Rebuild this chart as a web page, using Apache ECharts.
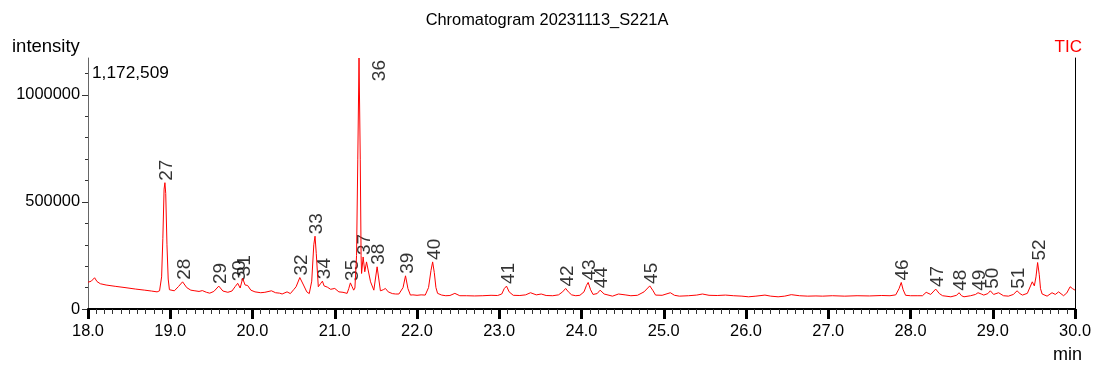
<!DOCTYPE html>
<html>
<head>
<meta charset="utf-8">
<script src="https://cdn.jsdelivr.net/npm/echarts@6/dist/echarts.min.js"></script>
<style>
html,body{margin:0;padding:0;background:#fff;}
#chart{width:1094px;height:365px;}
</style>
</head>
<body>
<div id="chart"></div>
<script>
// ---- data ----
const chartTitle = 'Chromatogram 20231113_S221A';
const traceName = 'TIC';
const yAxisName = 'intensity';
const xAxisName = 'min';

// retention time (min)
const times = [
18.00,18.04,18.08,18.11,18.15,18.22,18.33,18.45,18.58,18.69,18.77,18.84,18.87,18.895,18.91,18.925,18.935,18.945,18.96,18.975,18.99,
19.01,19.05,19.10,19.15,19.20,19.25,19.30,19.35,19.39,19.44,19.48,19.53,19.59,19.64,19.70,19.75,19.79,19.82,19.85,19.88,19.91,19.94,19.98,
20.03,20.10,20.15,20.23,20.28,20.33,20.36,20.42,20.46,20.50,20.53,20.575,20.62,20.66,20.69,20.72,20.745,20.76,20.775,20.80,20.83,20.85,20.87,20.91,20.95,
21.00,21.05,21.10,21.15,21.17,21.19,21.21,21.23,21.245,21.265,21.28,21.295,21.31,21.32,21.326,21.345,21.365,21.386,21.435,21.475,21.515,21.555,21.59,21.616,21.65,21.70,21.74,21.78,21.83,21.86,21.89,21.92,21.95,
22.00,22.05,22.10,22.14,22.17,22.19,22.21,22.23,22.25,22.30,22.35,22.40,22.46,22.52,22.60,22.70,22.80,22.90,22.98,
23.03,23.06,23.088,23.12,23.17,23.25,23.32,23.38,23.45,23.51,23.57,23.65,23.72,23.77,23.807,23.84,23.88,23.93,23.98,
24.03,24.06,24.081,24.11,24.14,24.19,24.226,24.275,24.376,24.45,24.53,24.60,24.68,24.76,24.83,24.87,24.90,24.98,
25.08,25.13,25.19,25.30,25.40,25.47,25.55,25.65,25.75,25.85,25.95,
26.03,26.12,26.23,26.30,26.39,26.47,26.55,26.65,26.75,26.85,26.93,
27.05,27.20,27.35,27.50,27.65,27.75,27.82,27.86,27.887,27.91,27.94,
28.00,28.08,28.145,28.19,28.245,28.306,28.35,28.39,28.49,28.56,28.59,28.62,28.65,28.73,28.79,28.82,28.86,28.89,28.94,28.97,
29.01,29.07,29.13,29.19,29.25,29.295,29.33,29.36,29.42,29.48,29.505,29.525,29.545,29.565,29.58,29.60,29.66,29.72,29.76,29.80,29.86,29.90,29.94,29.97,30.00
];
// intensity (counts)
const intensities = [
125000,130000,146000,128000,118000,112000,106000,100000,93000,88000,84000,80000,85000,150000,330000,560000,590000,540000,300000,140000,90000,
82000,85000,105000,127000,100000,88000,85000,82000,86000,78000,74000,82000,107000,84000,78000,84000,105000,120000,98000,143000,112000,110000,88000,
80000,76000,78000,85000,76000,74000,70000,80000,72000,90000,104000,147000,112000,80000,72000,130000,300000,340000,260000,104000,120000,130000,108000,102000,92000,
96000,80000,78000,73000,95000,122000,105000,88000,98000,250000,700000,1172509,700000,250000,166000,243000,174000,220000,127000,88000,197000,85000,90000,96000,80000,72000,70000,70000,100000,155000,95000,65000,66000,
64000,66000,65000,100000,180000,220000,170000,100000,73000,65000,62000,63000,73000,62000,62000,61000,62000,64000,63000,
70000,95000,107000,80000,64000,63000,66000,76000,66000,70000,63000,62000,66000,80000,96000,80000,66000,62000,64000,
80000,110000,124000,90000,68000,72000,88000,70000,60000,70000,66000,62000,64000,80000,108000,85000,65000,64000,
76000,64000,60000,62000,65000,70000,64000,63000,65000,62000,60000,
57000,60000,65000,60000,57000,60000,67000,62000,60000,61000,60000,
62000,60000,62000,61000,63000,62000,66000,95000,124000,90000,64000,
62000,62000,62000,78000,68000,93000,72000,62000,57000,64000,76000,62000,57000,62000,68000,76000,70000,65000,72000,85000,
68000,76000,62000,60000,68000,85000,72000,65000,73000,127000,108000,150000,217000,160000,95000,70000,60000,76000,68000,80000,62000,75000,104000,95000,88000
];

// peak annotations
const peakNames = ['27','28','29','30','31','32','33','34','35','36','37','38','39','40','41','42','43','44','45','46','47','48','49','50','51','52'];
const peakTimes = [18.935,19.15,19.59,19.82,19.88,20.575,20.76,20.85,21.19,21.295,21.345,21.515,21.86,22.19,23.088,23.807,24.081,24.226,24.83,27.887,28.306,28.59,28.82,28.97,29.295,29.545];

// axes ticks
const xMin = 18, xMax = 30, xStep = 1;
const yMajorTicks = [0, 500000, 1000000];
const yMinorTicks = [100000,200000,300000,400000,600000,700000,800000,900000,1100000];

const FONT = '"Liberation Sans", Arial, sans-serif';

const yMax = Math.max.apply(null, intensities);
const maxLabel = yMax.toLocaleString('en-US');

const lineData = times.map((t, i) => [t, intensities[i]]);
function valueAt(t){
  let best = 0;
  for (let i = 1; i < times.length; i++) if (Math.abs(times[i]-t) < Math.abs(times[best]-t)) best = i;
  return intensities[best];
}
const peakData = peakNames.map((n, i) => {
  const v = valueAt(peakTimes[i]);
  const item = { value: [peakTimes[i], v], name: n };
  if (v >= yMax) {
    item.label = { align: 'right', offset: [-4, 21] };
  }
  return item;
});

const chart = echarts.init(document.getElementById('chart'), null, { renderer: 'canvas' });
chart.setOption({
  animation: false,
  backgroundColor: '#ffffff',
  grid: { left: 88, right: 15, top: 58, bottom: 56, containLabel: false },
  graphic: [
    { type: 'text', left: 'center', y: 20, style: { text: chartTitle, font: '16.4px ' + FONT, fill: '#000', verticalAlign: 'middle' } },
    { type: 'text', x: 12, y: 47, style: { text: yAxisName, font: '18.5px ' + FONT, fill: '#000', verticalAlign: 'middle' } },
    { type: 'text', x: 1082, y: 47, style: { text: traceName, font: '17px ' + FONT, fill: '#ff0000', align: 'right', verticalAlign: 'middle' } },
    { type: 'text', x: 92, y: 73, style: { text: maxLabel, font: '17.3px ' + FONT, fill: '#000', verticalAlign: 'middle' } },
    { type: 'text', x: 1082, y: 355, style: { text: xAxisName, font: '18px ' + FONT, fill: '#000', align: 'right', verticalAlign: 'middle' } }
  ],
  xAxis: [
    {
      type: 'value', min: xMin, max: xMax, interval: xStep, position: 'bottom',
      axisLine: { show: true, lineStyle: { color: '#000', width: 1 } },
      axisTick: { show: true, length: 10, lineStyle: { color: '#000', width: 3 } },
      minorTick: { show: true, splitNumber: 10, length: 5, lineStyle: { color: '#333', width: 1 } },
      axisLabel: { formatter: v => v.toFixed(1), color: '#000', fontFamily: FONT, fontSize: 16.4, margin: 14 },
      splitLine: { show: false }, minorSplitLine: { show: false }
    },
    {
      type: 'value', min: xMin, max: xMax, position: 'top',
      axisLine: { show: true, lineStyle: { color: '#000', width: 2 } },
      axisTick: { show: false }, axisLabel: { show: false }, splitLine: { show: false }
    }
  ],
  yAxis: [
    {
      type: 'value', min: 0, max: yMax, position: 'left',
      axisLine: { show: true, lineStyle: { color: '#666', width: 1 } },
      axisTick: { show: true, length: 6, customValues: yMajorTicks, lineStyle: { color: '#333', width: 1 } },
      axisLabel: { customValues: yMajorTicks, formatter: v => String(Math.round(v)), color: '#000', fontFamily: FONT, fontSize: 16.4, margin: 8 },
      splitLine: { show: false }
    },
    {
      type: 'value', min: 0, max: yMax, position: 'left',
      axisLine: { show: false },
      axisTick: { show: true, length: 3, customValues: yMinorTicks, lineStyle: { color: '#333', width: 1 } },
      axisLabel: { show: false }, splitLine: { show: false }
    },
    {
      type: 'value', min: 0, max: yMax, position: 'right',
      axisLine: { show: true, lineStyle: { color: '#000', width: 1 } },
      axisTick: { show: false }, axisLabel: { show: false }, splitLine: { show: false }
    }
  ],
  series: [
    {
      type: 'line', name: traceName, data: lineData, xAxisIndex: 0, yAxisIndex: 0,
      showSymbol: false, symbol: 'none', clip: true,
      lineStyle: { color: '#ff0000', width: 1 }
    },
    {
      type: 'scatter', data: peakData, xAxisIndex: 0, yAxisIndex: 0,
      symbolSize: 0, silent: true,
      label: {
        show: true, formatter: p => p.name, position: 'top', distance: 2,
        rotate: 90, align: 'left', verticalAlign: 'middle', offset: [0, 2],
        color: '#000', fontFamily: FONT, fontSize: 19
      }
    }
  ]
});
</script>
</body>
</html>
